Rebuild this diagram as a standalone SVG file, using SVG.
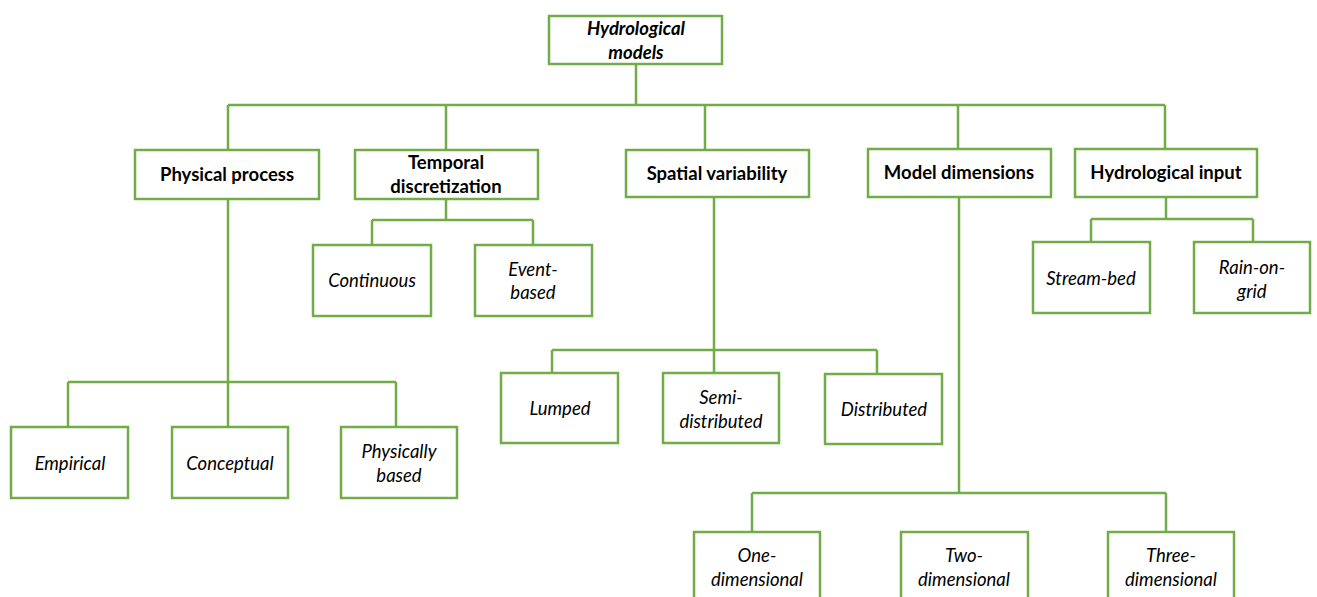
<svg xmlns="http://www.w3.org/2000/svg" width="1317" height="597" viewBox="0 0 1317 597">
<style>
.box{fill:#fff;stroke:#70AD47;stroke-width:2.5}
.con{fill:none;stroke:#70AD47;stroke-width:2.5}
text{font-family:Lato,"Open Sans",sans-serif;font-size:18.5px;fill:#000;text-anchor:middle}
.b{font-weight:bold}
.i{font-style:italic}
</style>
<rect width="1317" height="597" fill="#fff"/>
<g id="connectors">
<path class="con" d="M636 64V105M228 105H1165M228 105V150M446 105V150M705 105V150M958 105V149M1165 105V149"/>
<path class="con" d="M446 199V220M372 220H533M372 220V245M533 220V245"/>
<path class="con" d="M1166 197V219M1091 219H1253M1091 219V242M1253 219V242"/>
<path class="con" d="M228 199V427M68 382H396M68 382V427M396 382V427"/>
<path class="con" d="M714 197V373M552 350H877M552 350V373M877 350V374"/>
<path class="con" d="M959 197V493M752 493H1166M752 493V532M1166 493V532"/>
</g>
<g id="n-root"><rect class="box" x="549" y="16" width="173" height="48"/><text class="b i" x="636" y="35">Hydrological</text><text class="b i" x="636" y="59">models</text></g>
<g id="n-physical"><rect class="box" x="135" y="150" width="184" height="49"/><text class="b" x="227" y="181">Physical process</text></g>
<g id="n-temporal"><rect class="box" x="355" y="150" width="183" height="49"/><text class="b" x="446" y="169">Temporal</text><text class="b" x="446" y="193">discretization</text></g>
<g id="n-spatial"><rect class="box" x="626" y="150" width="183" height="47"/><text class="b" x="717" y="180">Spatial variability</text></g>
<g id="n-dimensions"><rect class="box" x="868" y="149" width="183" height="48"/><text class="b" x="959" y="179">Model dimensions</text></g>
<g id="n-input"><rect class="box" x="1075" y="149" width="182" height="48"/><text class="b" x="1166" y="179">Hydrological input</text></g>
<g id="n-continuous"><rect class="box" x="313" y="245" width="118" height="71"/><text class="i" x="372" y="287">Continuous</text></g>
<g id="n-event"><rect class="box" x="475" y="245" width="117" height="71"/><text class="i" x="533" y="276">Event-</text><text class="i" x="533" y="299">based</text></g>
<g id="n-streambed"><rect class="box" x="1033" y="242" width="117" height="71"/><text class="i" x="1091" y="285">Stream-bed</text></g>
<g id="n-rain"><rect class="box" x="1194" y="242" width="116" height="71"/><text class="i" x="1252" y="274">Rain-on-</text><text class="i" x="1252" y="298">grid</text></g>
<g id="n-empirical"><rect class="box" x="11" y="427" width="117" height="71"/><text class="i" x="70" y="470">Empirical</text></g>
<g id="n-conceptual"><rect class="box" x="172" y="427" width="116" height="71"/><text class="i" x="230" y="470">Conceptual</text></g>
<g id="n-physbased"><rect class="box" x="341" y="427" width="116" height="71"/><text class="i" x="399" y="458">Physically</text><text class="i" x="399" y="482">based</text></g>
<g id="n-lumped"><rect class="box" x="501" y="373" width="117" height="70"/><text class="i" x="560" y="415">Lumped</text></g>
<g id="n-semi"><rect class="box" x="663" y="373" width="116" height="70"/><text class="i" x="721" y="404">Semi-</text><text class="i" x="721" y="428">distributed</text></g>
<g id="n-distributed"><rect class="box" x="825" y="374" width="117" height="70"/><text class="i" x="884" y="416">Distributed</text></g>
<g id="n-one"><rect class="box" x="694" y="532" width="126" height="80"/><text class="i" x="757" y="562">One-</text><text class="i" x="757" y="586">dimensional</text></g>
<g id="n-two"><rect class="box" x="901" y="532" width="127" height="80"/><text class="i" x="964" y="562">Two-</text><text class="i" x="964" y="586">dimensional</text></g>
<g id="n-three"><rect class="box" x="1108" y="532" width="126" height="80"/><text class="i" x="1171" y="562">Three-</text><text class="i" x="1171" y="586">dimensional</text></g>
</svg>
